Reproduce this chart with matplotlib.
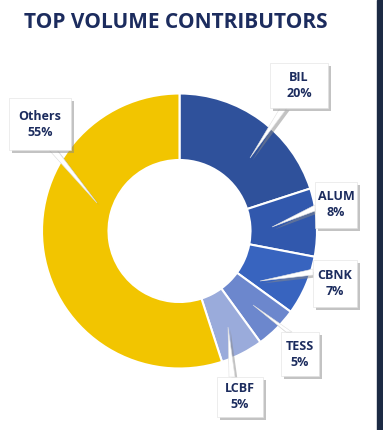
import matplotlib
matplotlib.use('Agg')
import matplotlib.pyplot as plt
import matplotlib.patheffects as pe
from matplotlib.patches import Polygon, Rectangle

# data
names = ['BIL', 'ALUM', 'CBNK', 'TESS', 'LCBF', 'Others']
shares = [20, 8, 7, 5, 5, 55]
colors = ['#2f519b', '#3158ad', '#3864bf', '#6c87cd', '#9aabdb', '#f2c500']

# callout layout in pixel coords: box (x0, y0, x1, y1), pointer base (two pts), tip
boxes = [(270, 63, 328, 108), (315, 182, 357, 228), (313, 260, 357, 307),
         (281, 332, 319, 376), (217, 377, 263, 417), (9, 98, 71, 150)]
bases = [((280, 108), (287, 108)), ((315, 205), (315, 211)), ((313, 269), (313, 275)),
         ((286, 332), (292, 332)), ((229, 377), (235, 377)), ((49, 150), (57, 150))]
tips = [(250, 158), (272, 227), (260, 281), (253, 305), (228, 327), (97, 203)]

NAVY = '#1c2c5e'
CX, CY, R_OUT, R_IN = 179.5, 231, 137.5, 71

fig = plt.figure(figsize=(3.83, 4.30), dpi=100)
ax = fig.add_axes([0, 0, 1, 1])

# y axis inverted, so counterclock=True runs clockwise on screen
ax.pie(shares, colors=colors, startangle=-90, counterclock=True,
       center=(CX, CY), radius=R_OUT,
       wedgeprops=dict(width=R_OUT - R_IN, edgecolor='white', linewidth=1.5))

ax.set_xlim(0, 383)
ax.set_ylim(430, 0)
ax.set_aspect('equal')
ax.axis('off')

# dark strip on the right edge
ax.add_patch(Rectangle((377, 0), 6, 430, color='#1c2a44', zorder=5))

ax.text(24, 23, 'TOP VOLUME CONTRIBUTORS', fontsize=15, fontweight='bold',
        color=NAVY, family='Open Sans', va='center', ha='left')

shadow = [pe.SimplePatchShadow(offset=(1.8, -1.8), shadow_rgbFace='#888888', alpha=0.5),
          pe.Normal()]
for name, share, box, base, tip in zip(names, shares, boxes, bases, tips):
    x0, y0, x1, y1 = box
    ax.add_patch(Polygon([base[0], tip, base[1]], closed=True, facecolor='white',
                         edgecolor='#e0e0e0', linewidth=0.4, zorder=6,
                         path_effects=shadow))
    ax.add_patch(Rectangle((x0, y0), x1 - x0, y1 - y0, facecolor='white',
                           edgecolor='#e0e0e0', linewidth=0.4, zorder=7,
                           path_effects=shadow))
    ax.text((x0 + x1) / 2, (y0 + y1) / 2, f'{name}\n{share}%', ha='center',
            va='center', fontsize=9, fontweight='bold', color=NAVY,
            family='Open Sans', linespacing=1.3, zorder=8)

fig.savefig('out.png', dpi=100)
